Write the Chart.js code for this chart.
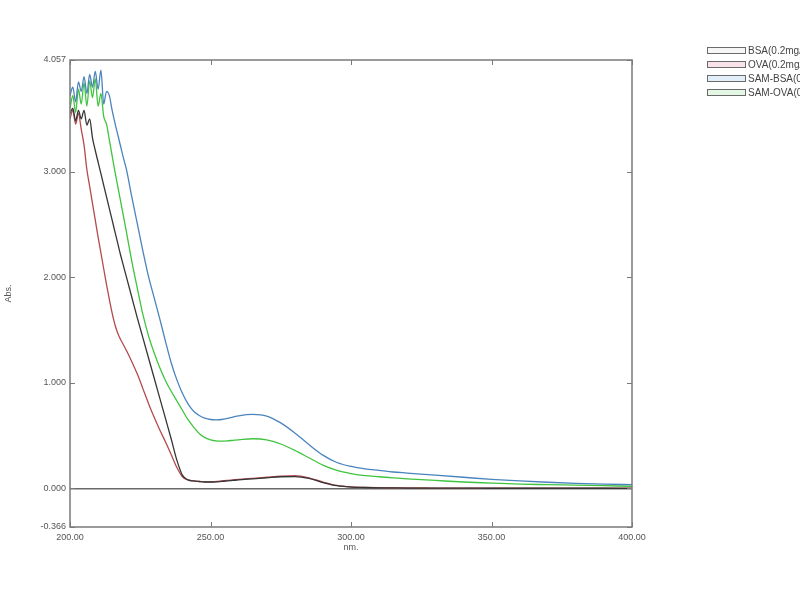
<!DOCTYPE html>
<html>
<head>
<meta charset="utf-8">
<script src="https://cdn.jsdelivr.net/npm/chart.js@4.4.1/dist/chart.umd.min.js"></script>
<style>
  body { margin: 0; width: 800px; height: 600px; overflow: hidden; background: #fff; font-family: "Liberation Sans", Arial, sans-serif; }
  #wrap { position: relative; width: 800px; height: 600px; }
  #legend { position: absolute; left: 707px; top: 44px; white-space: nowrap; }
  .row { height: 13.8px; display: flex; align-items: center; font-size: 10px; color: #444; }
  .sw { width: 37px; height: 5px; border: 1px solid #6a6a6a; margin-right: 2px; }
</style>
</head>
<body>
<div id="wrap">
  <canvas id="uv" width="800" height="600"></canvas>
  <div id="legend"></div>
</div>
<script>
// wavelength grid (nm) and absorbance of each sample
const wavelengths = [
  200, 201, 202, 203, 204, 205, 206, 207, 208, 209, 210, 211, 212, 213, 214, 215, 216, 217, 218, 219, 220,
  222, 224, 226, 228, 230, 232, 234, 236, 238, 240, 242, 244, 246, 248, 250, 252, 254, 256, 258, 260,
  265, 270, 275, 280, 285, 290, 295, 300, 305, 310, 315, 320,
  330, 340, 350, 360, 370, 380, 390, 400
];
const bsa = [
  3.55, 3.60, 3.48, 3.58, 3.50, 3.58, 3.44, 3.50, 3.32, 3.20, 3.09, 2.98, 2.87, 2.76, 2.65, 2.54, 2.43, 2.32, 2.21, 2.11, 2.01,
  1.81, 1.61, 1.42, 1.23, 1.04, 0.85, 0.66, 0.47, 0.27, 0.125, 0.08, 0.07, 0.065, 0.06, 0.06, 0.062, 0.066, 0.07, 0.075, 0.08,
  0.09, 0.10, 0.11, 0.112, 0.095, 0.055, 0.025, 0.012, 0.008, 0.005, 0.004, 0.003,
  0.002, 0.002, 0.001, 0.001, 0.001, 0.001, 0.001, 0.0
];
const ova = [
  3.50, 3.58, 3.45, 3.55, 3.40, 3.25, 3.02, 2.86, 2.70, 2.54, 2.38, 2.23, 2.08, 1.93, 1.79, 1.66, 1.55, 1.47, 1.41, 1.36, 1.31,
  1.20, 1.08, 0.94, 0.80, 0.67, 0.55, 0.44, 0.32, 0.20, 0.11, 0.08, 0.07, 0.065, 0.062, 0.062, 0.065, 0.07, 0.075, 0.08, 0.085,
  0.095, 0.105, 0.115, 0.12, 0.10, 0.06, 0.028, 0.014, 0.009, 0.006, 0.005, 0.004,
  0.003, 0.002, 0.002, 0.001, 0.001, 0.001, 0.001, 0.001
];
const samBsa = [
  3.72, 3.80, 3.66, 3.85, 3.76, 3.90, 3.74, 3.92, 3.80, 3.95, 3.78, 3.96, 3.64, 3.76, 3.72, 3.58, 3.46, 3.35, 3.24, 3.13, 3.03,
  2.76, 2.50, 2.24, 2.00, 1.80, 1.60, 1.39, 1.19, 1.03, 0.90, 0.80, 0.73, 0.69, 0.665, 0.652, 0.648, 0.652, 0.662, 0.675, 0.687,
  0.70, 0.685, 0.62, 0.525, 0.415, 0.315, 0.245, 0.208, 0.185, 0.17, 0.155, 0.145,
  0.125, 0.105, 0.085, 0.07, 0.058, 0.048, 0.04, 0.035
];
const samOva = [
  3.60, 3.72, 3.56, 3.78, 3.64, 3.84, 3.62, 3.86, 3.70, 3.88, 3.62, 3.74, 3.52, 3.45, 3.30, 3.15, 3.00, 2.86, 2.72, 2.58, 2.44,
  2.15, 1.89, 1.64, 1.44, 1.28, 1.14, 1.02, 0.92, 0.83, 0.74, 0.65, 0.58, 0.52, 0.48, 0.46, 0.45, 0.448, 0.45, 0.455, 0.46,
  0.47, 0.46, 0.42, 0.36, 0.29, 0.22, 0.17, 0.14, 0.12, 0.11, 0.10, 0.09,
  0.075, 0.06, 0.05, 0.04, 0.035, 0.03, 0.025, 0.02
];
const seriesLabels = ['BSA(0.2mg/ml)', 'OVA(0.2mg/ml)', 'SAM-BSA(0.2mg/ml)', 'SAM-OVA(0.2mg/ml)'];
const xTicks = [200, 250, 300, 350, 400];
const yTicks = [-0.366, 0, 1, 2, 3, 4.057];

const colors = ['#363636', '#b44a4e', '#4a84bd', '#3fc43f'];
const swatchFill = ['#f6f6f6', '#f8e4e8', '#e2eef8', '#e4f6e4'];

function pts(ys) {
  return wavelengths.map((w, i) => ({ x: w, y: ys[i] }));
}

// box around the plot and inward tick marks on all four sides
const frame = {
  id: 'frame',
  afterDraw(chart) {
    const { ctx, chartArea: a, scales: { x, y } } = chart;
    ctx.save();
    ctx.strokeStyle = '#7a7a7a';
    ctx.lineWidth = 1.5;
    ctx.strokeRect(a.left, a.top, a.right - a.left, a.bottom - a.top);
    ctx.lineWidth = 1;
    ctx.beginPath();
    xTicks.forEach(v => {
      const px = Math.round(x.getPixelForValue(v)) + 0.5;
      ctx.moveTo(px, a.bottom); ctx.lineTo(px, a.bottom - 5);
      ctx.moveTo(px, a.top); ctx.lineTo(px, a.top + 5);
    });
    yTicks.forEach(v => {
      const py = Math.round(y.getPixelForValue(v)) + 0.5;
      ctx.moveTo(a.left, py); ctx.lineTo(a.left + 5, py);
      ctx.moveTo(a.right, py); ctx.lineTo(a.right - 5, py);
    });
    ctx.stroke();
    ctx.restore();
  }
};

const ctx = document.getElementById('uv').getContext('2d');
const chart = new Chart(ctx, {
  type: 'line',
  data: {
    datasets: [bsa, ova, samBsa, samOva].map((s, i) => ({
      label: seriesLabels[i],
      data: pts(s),
      borderColor: colors[i],
      borderWidth: 1.3,
      pointRadius: 0,
      fill: false,
      cubicInterpolationMode: 'monotone'
    }))
  },
  options: {
    responsive: false,
    animation: false,
    devicePixelRatio: 1,
    layout: { padding: { top: 60, right: 168, left: 3, bottom: 47 } },
    plugins: { legend: { display: false }, tooltip: { enabled: false } },
    scales: {
      x: {
        type: 'linear',
        min: 200,
        max: 400,
        afterBuildTicks: s => { s.ticks = xTicks.map(v => ({ value: v })); },
        afterFit: s => { s.height = 26; },
        ticks: {
          autoSkip: false, maxRotation: 0, padding: 5,
          color: '#555', font: { family: 'Liberation Sans', size: 9 },
          callback: v => Number(v).toFixed(2)
        },
        grid: { drawOnChartArea: false, drawTicks: false },
        border: { display: false },
        title: { display: true, text: 'nm.', color: '#555', padding: 0, font: { family: 'Liberation Sans', size: 9 } }
      },
      y: {
        min: -0.366,
        max: 4.057,
        afterBuildTicks: s => { s.ticks = yTicks.map(v => ({ value: v })); },
        afterFit: s => { s.width = 67; },
        ticks: {
          autoSkip: false, padding: 4,
          color: '#555', font: { family: 'Liberation Sans', size: 9 },
          callback: v => Number(v).toFixed(3)
        },
        grid: {
          drawTicks: false,
          color: c => (c.tick && c.tick.value === 0 ? '#6a6a6a' : 'rgba(0,0,0,0)'),
          lineWidth: c => (c.tick && c.tick.value === 0 ? 1.6 : 0)
        },
        border: { display: false },
        title: { display: true, text: 'Abs.', color: '#555', padding: 0, font: { family: 'Liberation Sans', size: 9 } }
      }
    }
  },
  plugins: [frame]
});

// legend drawn from the chart's own datasets
const legend = document.getElementById('legend');
chart.data.datasets.forEach((d, i) => {
  const row = document.createElement('div');
  row.className = 'row';
  const sw = document.createElement('span');
  sw.className = 'sw';
  sw.style.background = swatchFill[i];
  const txt = document.createElement('span');
  txt.textContent = d.label;
  row.appendChild(sw);
  row.appendChild(txt);
  legend.appendChild(row);
});
</script>
</body>
</html>
